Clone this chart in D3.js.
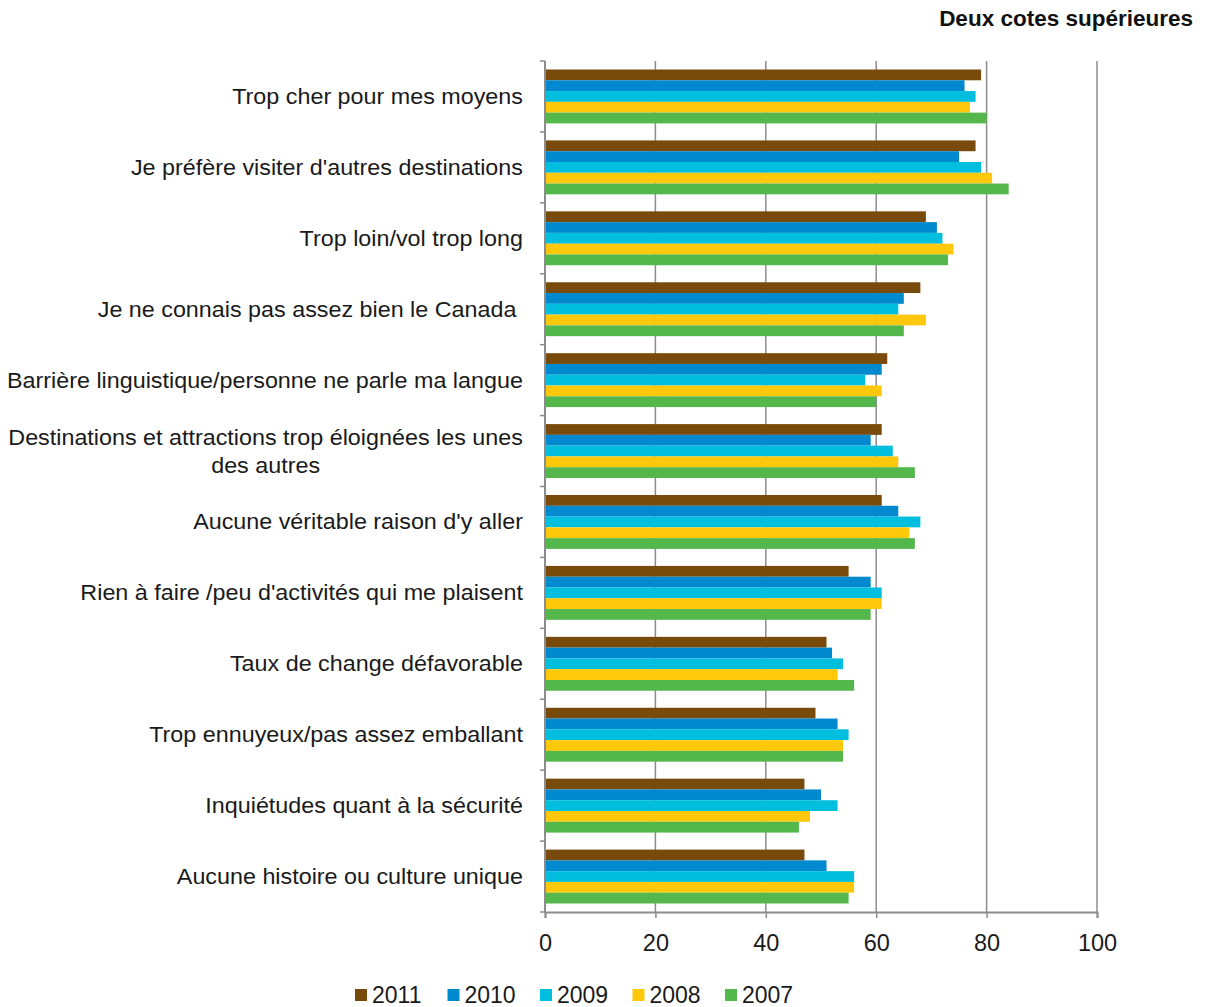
<!DOCTYPE html>
<html><head><meta charset="utf-8">
<script src="https://cdn.jsdelivr.net/npm/d3@7"></script>
<style>
body{margin:0;background:#fff;}
text{font-family:"Liberation Sans","Helvetica Neue",Arial,sans-serif;}
</style></head>
<body><svg id="c" width="1205" height="1007"></svg>
<script>
const categories = [
  ["Trop cher pour mes moyens"],
  ["Je préfère visiter d'autres destinations"],
  ["Trop loin/vol trop long"],
  ["Je ne connais pas assez bien le Canada "],
  ["Barrière linguistique/personne ne parle ma langue"],
  ["Destinations et attractions trop éloignées les unes", "des autres"],
  ["Aucune véritable raison d'y aller"],
  ["Rien à faire /peu d'activités qui me plaisent"],
  ["Taux de change défavorable"],
  ["Trop ennuyeux/pas assez emballant"],
  ["Inquiétudes quant à la sécurité"],
  ["Aucune histoire ou culture unique"]
];
const years = ["2011","2010","2009","2008","2007"];
const colors = ["#784A0B","#0089CF","#00BEDD","#FFC80A","#53B74C"];
const v2011 = [79,78,69,68,62,61,61,55,51,49,47,47];
const v2010 = [76,75,71,65,61,59,64,59,52,53,50,51];
const v2009 = [78,79,72,64,58,63,68,61,54,55,53,56];
const v2008 = [77,81,74,69,61,64,66,61,53,54,48,56];
const v2007 = [80,84,73,65,60,67,67,59,56,54,46,55];
const series = [v2011,v2010,v2009,v2008,v2007];
const xTicks = [0,20,40,60,80,100];
const title = "Deux cotes supérieures";

(function(){
const svg = d3.select("#c");
const L=545, R=1097, T=61, B=912;
const x = d3.scaleLinear().domain([0,100]).range([L,R]);
const y = d3.scaleBand().domain(d3.range(categories.length)).range([T,B]).paddingInner(0.24).paddingOuter(0.12);
const yb = d3.scaleBand().domain(years).range([0,y.bandwidth()]);
const grid = "#8C8C8C";
const labFont = 21.5;
const sx = 1.085;

// gridlines
svg.append("g").selectAll("line").data(xTicks.slice(1)).join("line")
  .attr("x1",d=>x(d)).attr("x2",d=>x(d)).attr("y1",T).attr("y2",B)
  .attr("stroke",grid).attr("stroke-width",1.5);

// bars
const groups = svg.append("g").selectAll("g").data(categories).join("g")
  .attr("transform",(d,i)=>`translate(0,${y(i)})`);
groups.each(function(d,i){
  d3.select(this).selectAll("rect").data(years).join("rect")
    .attr("x",x(0)).attr("y",yr=>yb(yr))
    .attr("width",(yr,j)=>x(series[j][i])-x(0))
    .attr("height",yb.bandwidth())
    .attr("fill",(yr,j)=>colors[j]);
});

// axes
const xAxis = d3.axisBottom(x).tickValues(xTicks).tickSize(6).tickPadding(16);
const gx = svg.append("g").attr("transform",`translate(0,${B})`).call(xAxis);
gx.select(".domain").attr("stroke",grid).attr("stroke-width",2);
gx.selectAll(".tick line").attr("stroke",grid).attr("stroke-width",1.5);
gx.selectAll(".tick text").attr("font-size",23.5).attr("fill","#1a1a1a")
  .attr("font-family","Liberation Sans, Arial, sans-serif");

const yEdges = d3.range(categories.length+1).map(i=>T+(B-T)*i/categories.length);
svg.append("line").attr("x1",L).attr("x2",L).attr("y1",T).attr("y2",B)
  .attr("stroke",grid).attr("stroke-width",2);
svg.append("g").selectAll("line").data(yEdges).join("line")
  .attr("x1",L-5).attr("x2",L).attr("y1",d=>d).attr("y2",d=>d)
  .attr("stroke",grid).attr("stroke-width",1.5);

// category labels (right-aligned block at x=523, lines centred, slightly widened)
const labG = svg.append("g").attr("transform",`translate(523,0) scale(${sx},1)`);
const lab = labG.selectAll("text").data(categories).join("text")
  .attr("font-size",labFont).attr("fill","#1a1a1a")
  .attr("text-anchor","middle").style("white-space","pre");
lab.each(function(lines,i){
  const t = d3.select(this);
  const cy = y(i)+y.bandwidth()/2;
  const lh = 28;
  lines.forEach((s,k)=>{
    t.append("tspan").attr("y",cy+(k-(lines.length-1)/2)*lh).attr("dy","0.35em").text(s);
  });
  const tmp = svg.append("text").attr("font-size",labFont).style("white-space","pre");
  let maxW = 0;
  lines.forEach(s=>{tmp.text(s); maxW=Math.max(maxW,tmp.node().getComputedTextLength());});
  tmp.remove();
  t.selectAll("tspan").attr("x",-maxW/2);
});

// title
svg.append("text").attr("x",1193).attr("y",26).attr("text-anchor","end")
  .attr("font-size",22.5).attr("font-weight","bold").attr("fill","#111").text(title);

// legend
const leg = svg.append("g").selectAll("g").data(years).join("g")
  .attr("transform",(d,i)=>`translate(${355+i*92.5},0)`);
leg.append("rect").attr("x",0).attr("y",989).attr("width",12).attr("height",12)
  .attr("fill",(d,i)=>colors[i]);
leg.append("text").attr("x",17).attr("y",1003).attr("font-size",23).attr("fill","#1a1a1a").text(d=>d);
})();
</script></body></html>
